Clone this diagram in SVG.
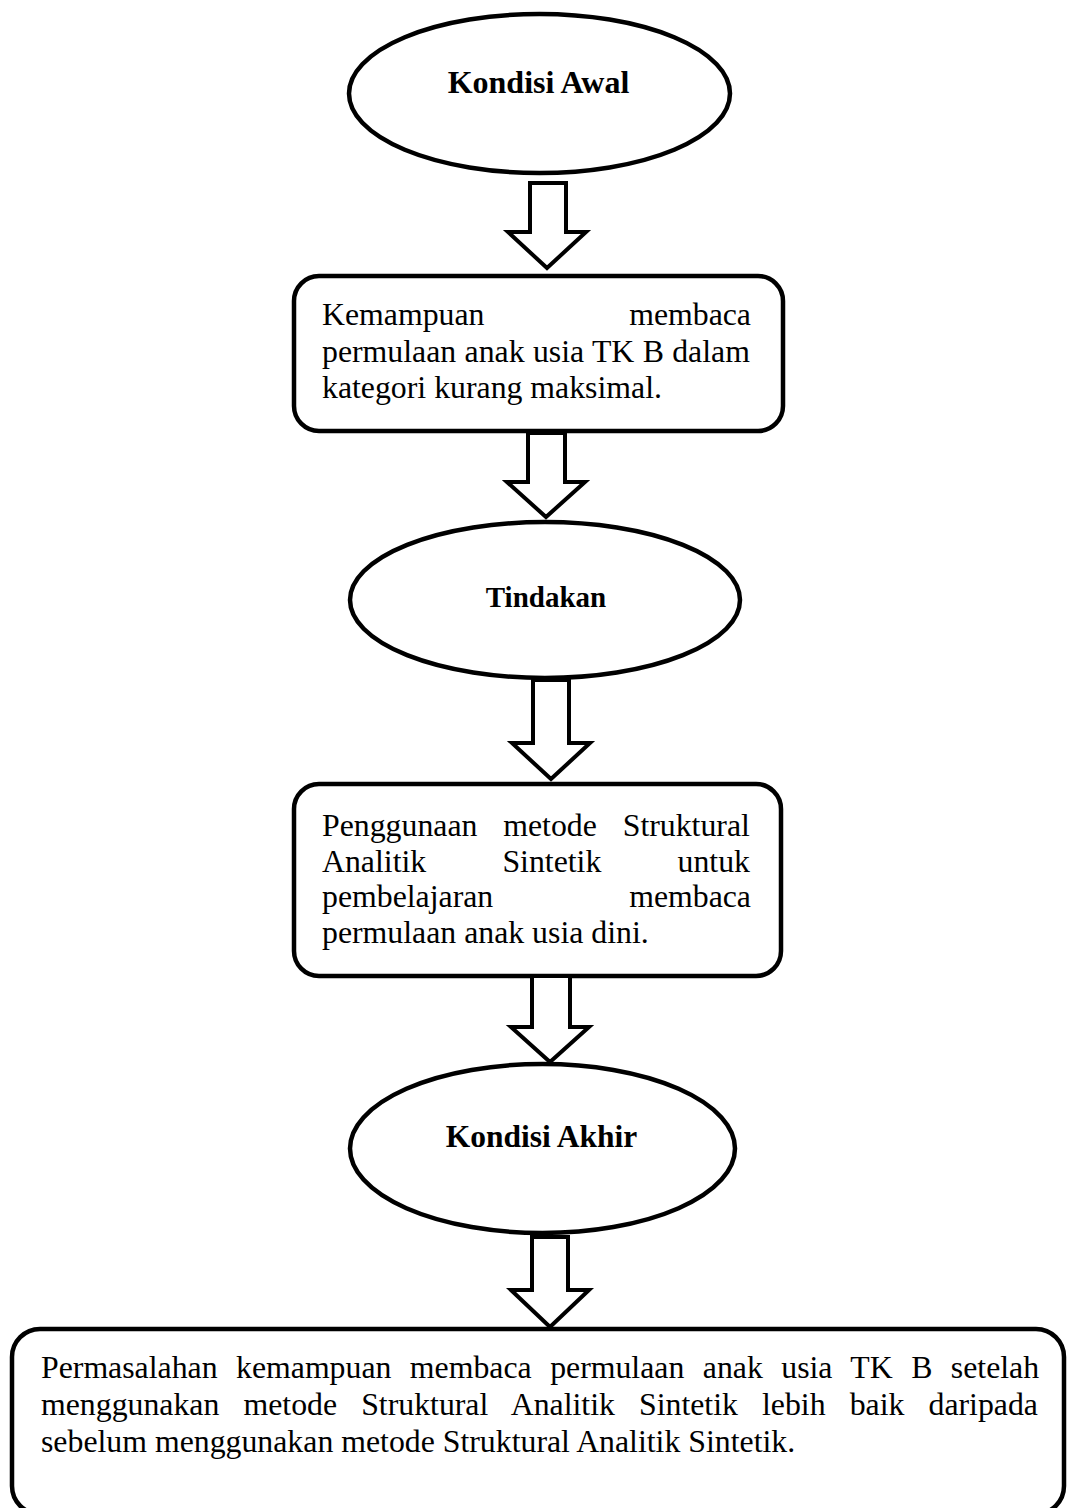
<svg xmlns="http://www.w3.org/2000/svg" width="1069" height="1508" viewBox="0 0 1069 1508">
<style>
.shape{fill:#fff;stroke:#000;stroke-width:4.5}
.arrow{fill:#fff;stroke:#000;stroke-width:4;stroke-linejoin:miter}
.title{font-family:"Liberation Serif","Times New Roman",serif;font-weight:bold;text-anchor:middle;fill:#000}
.body{font-family:"Liberation Serif","Times New Roman",serif;font-size:31.8px;fill:#000}
.end{text-anchor:end}
</style>
<rect width="1069" height="1508" fill="#fff"/>
<g id="kondisi-awal">
<ellipse class="shape" cx="539.5" cy="93.5" rx="190.5" ry="79.5"/>
<text class="title" x="538.5" y="93" font-size="32">Kondisi Awal</text>
</g>
<g id="kemampuan">
<rect class="shape" x="294" y="276" width="489" height="155" rx="25"/>
<text class="body" x="322" y="325">Kemampuan</text>
<text class="body end" x="751" y="325">membaca</text>
<text class="body" x="322" y="362" word-spacing="0.4">permulaan anak usia TK B dalam</text>
<text class="body" x="322" y="398">kategori kurang maksimal.</text>
</g>
<g id="tindakan">
<ellipse class="shape" cx="545" cy="600" rx="195" ry="78"/>
<text class="title" x="546" y="607" font-size="29">Tindakan</text>
</g>
<g id="penggunaan">
<rect class="shape" x="294" y="784" width="487" height="192" rx="25"/>
<text class="body" x="322" y="836" word-spacing="17.9">Penggunaan metode Struktural</text>
<text class="body" x="322" y="872" word-spacing="68.25">Analitik Sintetik untuk</text>
<text class="body" x="322" y="907">pembelajaran</text>
<text class="body end" x="751" y="907">membaca</text>
<text class="body" x="322" y="943">permulaan anak usia dini.</text>
</g>
<g id="kondisi-akhir">
<ellipse class="shape" cx="542.5" cy="1148.5" rx="192.5" ry="84.5"/>
<text class="title" x="541.5" y="1147" font-size="31.5">Kondisi Akhir</text>
</g>
<g id="permasalahan">
<rect class="shape" x="12" y="1329" width="1052" height="185" rx="28"/>
<text class="body" x="41" y="1378" word-spacing="10.5">Permasalahan kemampuan membaca permulaan anak usia TK B setelah</text>
<text class="body" x="41" y="1415" word-spacing="16.15">menggunakan metode Struktural Analitik Sintetik lebih baik daripada</text>
<text class="body" x="41" y="1452">sebelum menggunakan metode Struktural Analitik Sintetik.</text>
</g>
<g id="connectors">
<polygon class="arrow" points="530,183 566,183 566,232 586,232 547,268 508,232 530,232"/>
<polygon class="arrow" points="528,433 565,433 565,482 585,482 546,517 507,482 528,482"/>
<polygon class="arrow" points="533,680 569,680 569,743 590,743 551,779 512,743 533,743"/>
<polygon class="arrow" points="532,976 570,976 570,1027 589,1027 550,1062 511,1027 532,1027"/>
<polygon class="arrow" points="532,1237 568,1237 568,1290 589,1290 550,1327 511,1290 532,1290"/>
</g>
</svg>
